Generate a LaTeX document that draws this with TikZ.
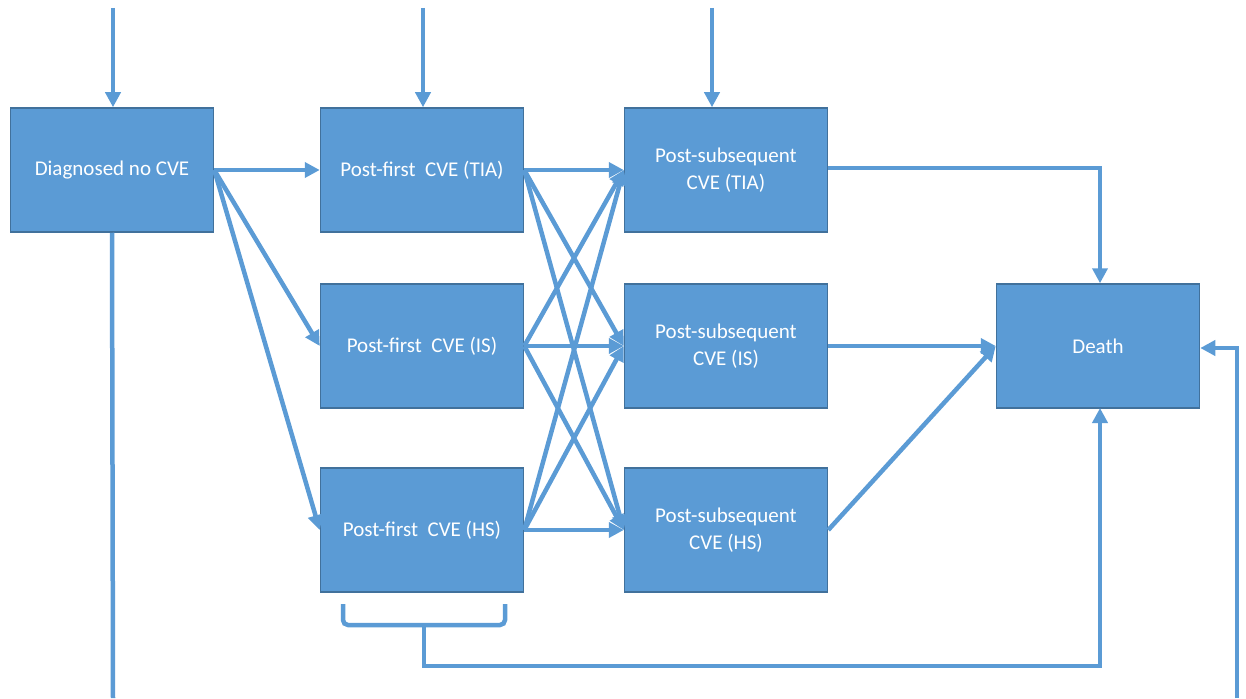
\documentclass[tikz,border=0pt]{standalone}
\usepackage{fontspec}
\setmainfont{Carlito}
\usetikzlibrary{arrows.meta}
\definecolor{boxfill}{HTML}{5B9BD5}
\definecolor{boxline}{HTML}{41719C}
\definecolor{arrowc}{HTML}{5B9BD5}
\tikzset{
  state/.style={draw=boxline, line width=1.5pt, fill=boxfill, text=white,
    minimum width=203pt, minimum height=124pt, align=center, inner sep=0pt,
    font=\fontsize{21}{27}\selectfont},
  conn/.style={draw=arrowc, line width=4.5pt, -{Triangle[length=15pt,width=15pt]}},
  plainconn/.style={draw=arrowc, line width=4.5pt},
}
\begin{document}
\begin{tikzpicture}[x=1pt,y=-1pt]
\useasboundingbox (0,0) rectangle (1246,698);
\node[state] (dx)  at (112,170) {Diagnosed no CVE};
\node[state] (ft)  at (422,170) {Post-first~ CVE (TIA)};
\node[state] (fi)  at (422,346) {Post-first~ CVE (IS)};
\node[state] (fh)  at (422,530) {Post-first~ CVE (HS)};
\node[state] (st)  at (726,170) {Post-subsequent\\CVE (TIA)};
\node[state] (si)  at (726,346) {Post-subsequent\\CVE (IS)};
\node[state] (sh)  at (726,530) {Post-subsequent\\CVE (HS)};
\node[state] (de)  at (1098,346) {Death};

% entry arrows
\coordinate (in1) at (113,8);
\coordinate (in2) at (423,8);
\coordinate (in3) at (712,8);
\draw[conn] (in1) -- (in1 |- dx.north);
\draw[conn] (in2) -- (in2 |- ft.north);
\draw[conn] (in3) -- (in3 |- st.north);

% diagnosed out
\draw[conn] (dx.east) -- (ft.west);
\draw[conn] (dx.east) -- (fi.west);
\draw[conn] (dx.east) -- (fh.west);
\coordinate (dxb) at (113,698);
\draw[plainconn] (dx.south) -- (dxb);

% cross arrows
\foreach \a in {ft,fi,fh}{
  \foreach \b in {st,si,sh}{
    \draw[conn] (\a.east) -- (\b.west);
  }
}

% to death
\coordinate (tr) at (1100,168);
\draw[conn] (st.east |- tr) -- (tr) -- (tr |- de.north);
\draw[conn] (si.east) -- (de.west);
\draw[conn] (sh.east) -- (de.west);

% brace
\coordinate (b1) at (343,604);
\coordinate (b2) at (505,604);
\coordinate (bm) at (424,625);
\coordinate (bl) at (424,666);
\draw[plainconn, rounded corners=5pt] (b1) -- (b1 |- bm) -- (b2 |- bm) -- (b2);
\draw[conn] (bm) -- (bl) -- (1100,666) -- (1100,408);

% right side
\coordinate (rb) at (1237,698);
\draw[conn] (rb) -- (1237,348) -- (de.east |- 0,348);
\end{tikzpicture}
\end{document}
